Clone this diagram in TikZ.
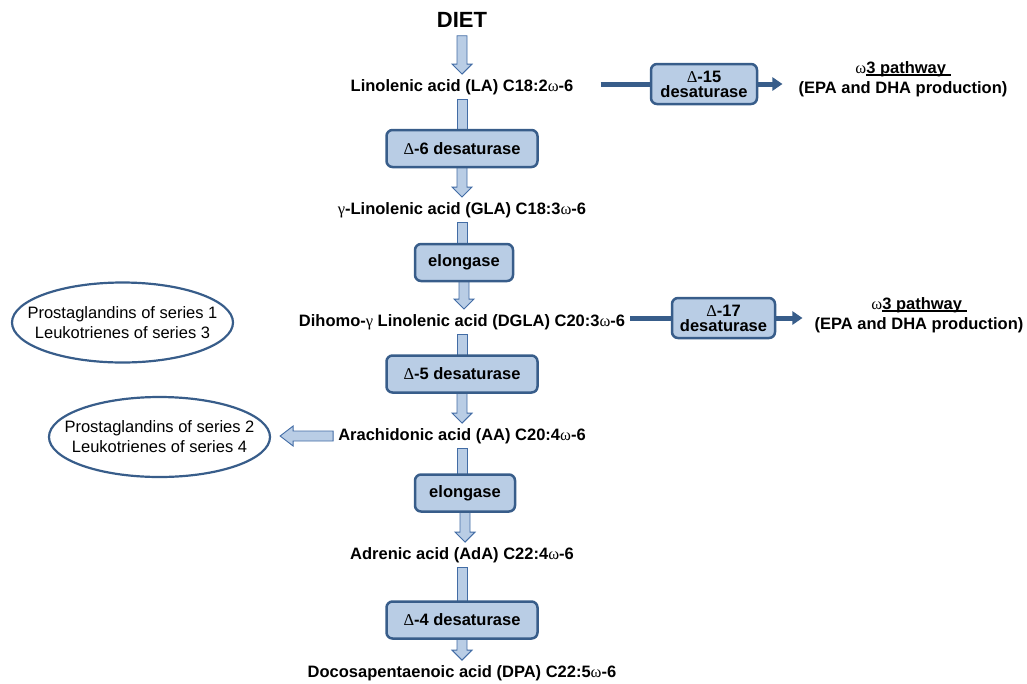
\documentclass[tikz,border=0pt]{standalone}
\usepackage{fontspec}
\setmainfont{Liberation Sans}
\newfontfamily\symf{Liberation Serif}
\usetikzlibrary{shapes.geometric,arrows.meta,calc}
\definecolor{boxfill}{RGB}{185,205,229}
\definecolor{boxline}{RGB}{56,93,138}
\definecolor{arrline}{RGB}{66,108,165}
\definecolor{arrfill}{RGB}{185,205,229}
\pgfdeclarelayer{bg}
\pgfsetlayers{bg,main}
\newcommand\sy[1]{{\symf\mdseries #1}}
\newcommand\myul[1]{\setbox0\hbox{#1}\rlap{\rule[-2pt]{\wd0}{1.2pt}}\box0}
\newcommand\bdown[2]{\path[blk] let \p1=(#1), \p2=(#2) in (\x1-5pt,\y1) -- (\x1+5pt,\y1) -- (\x1+5pt,\y2+10pt) -- (\x1+10pt,\y2+10pt) -- (\x1,\y2) -- (\x1-10pt,\y2+10pt) -- (\x1-5pt,\y2+10pt) -- cycle;}
\newcommand\bshaft[2]{\path[blk] let \p1=(#1), \p2=(#2) in (\x1-5pt,\y1) rectangle (\x1+5pt,\y2);}
\begin{document}
\begin{tikzpicture}[x=1pt,y=-1pt,
  lbl/.style={font=\bfseries\fontsize{16.5}{19.5}\selectfont, inner sep=5pt, align=center},
  enz/.style={draw=boxline, fill=boxfill, line width=2.5pt, rounded corners=6pt, font=\bfseries\fontsize{16.5}{15}\selectfont, align=center, minimum height=37pt, inner sep=2pt},
  prod/.style={ellipse, draw=boxline, line width=2.2pt, minimum width=221pt, minimum height=80pt, inner xsep=-20pt, inner ysep=0pt, align=center, font=\fontsize{16.5}{20}\selectfont},
  blk/.style={draw=arrline, fill=arrfill, line width=0.9pt},
  conn/.style={draw=boxline, line width=5pt},
  omega/.style={font=\bfseries\fontsize{16.5}{19.5}\selectfont, align=center, inner sep=0pt}]
\useasboundingbox (0,0) rectangle (1027,683);
% main column
\node[lbl, font=\bfseries\fontsize{22}{24}\selectfont, inner sep=8pt] (diet) at (462,20) {DIET};
\node[lbl] (la) at (462,87) {Linolenic acid (LA) C18:2\sy{ω}-6};
\node[enz, minimum width=151pt] (d6) at (462,148.5) {\sy{Δ}-6 desaturase};
\node[lbl] (gla) at (462,210) {\sy{γ}-Linolenic acid (GLA) C18:3\sy{ω}-6};
\node[enz, minimum width=98pt] (el1) at (464,262.5) {elongase};
\node[lbl] (dgla) at (462,322) {Dihomo-\sy{γ} Linolenic acid (DGLA) C20:3\sy{ω}-6};
\node[enz, minimum width=151pt] (d5) at (462,374) {\sy{Δ}-5 desaturase};
\node[lbl] (aa) at (462,436) {Arachidonic acid (AA) C20:4\sy{ω}-6};
\node[enz, minimum width=100pt] (el2) at (465,493) {elongase};
\node[lbl] (ada) at (462,555) {Adrenic acid (AdA) C22:4\sy{ω}-6};
\node[enz, minimum width=151pt] (d4) at (462,620) {\sy{Δ}-4 desaturase};
\node[lbl] (dpa) at (462,673) {Docosapentaenoic acid (DPA) C22:5\sy{ω}-6};
% side branches
\node[enz, minimum width=106pt, minimum height=40pt, inner sep=0pt] (d15) at (704,84) {\sy{Δ}-15\\desaturase};
\node[omega] (om1) at (903,79) {\sy{ω}\myul{3 pathway\hphantom{i}}\\(EPA and DHA production)};
\node[enz, minimum width=103pt, minimum height=40pt, inner sep=0pt] (d17) at (723.5,318) {\sy{Δ}-17\\desaturase};
\node[omega] (om2) at (919,315) {\sy{ω}\myul{3 pathway\hphantom{i}}\\(EPA and DHA production)};
\node[prod] (e1) at (122.5,322.5) {Prostaglandins of series 1\\Leukotrienes of series 3};
\node[prod] (e2) at (159.5,437) {Prostaglandins of series 2\\Leukotrienes of series 4};
% block arrows
\begin{pgfonlayer}{bg}
\bdown{diet.south}{la.north}
\bshaft{la.south}{d6.center}
\bdown{d6.center}{gla.north}
\bshaft{gla.south}{el1.center}
\bdown{el1.center}{dgla.north}
\bshaft{dgla.south}{d5.center}
\bdown{d5.center}{aa.north}
\bshaft{aa.south}{el2.center}
\bdown{el2.center}{ada.north}
\bshaft{ada.south}{d4.center}
\bdown{d4.center}{dpa.north}
\path[blk] let \p1=(aa.west), \p2=(e2.east) in
  (\x1,\y1+5pt) -- (\x2+22pt,\y1+5pt) -- (\x2+22pt,\y1+10pt) -- (\x2+9pt,\y1) -- (\x2+22pt,\y1-10pt) -- (\x2+22pt,\y1-5pt) -- (\x1,\y1-5pt) -- cycle;
\end{pgfonlayer}
% thick connectors
\draw[conn, shorten <=22pt] (la.east|-d15.west) -- (d15.west);
\draw[conn, -{Triangle[length=10pt,width=13pt]}, shorten >=16pt] (d15.east) -- (om1.west|-d15.east);
\draw[conn] (dgla.east|-d17.west) -- (d17.west);
\draw[conn, -{Triangle[length=10pt,width=13pt]}, shorten >=12pt] (d17.east) -- (om2.west|-d17.east);
\end{tikzpicture}
\end{document}
